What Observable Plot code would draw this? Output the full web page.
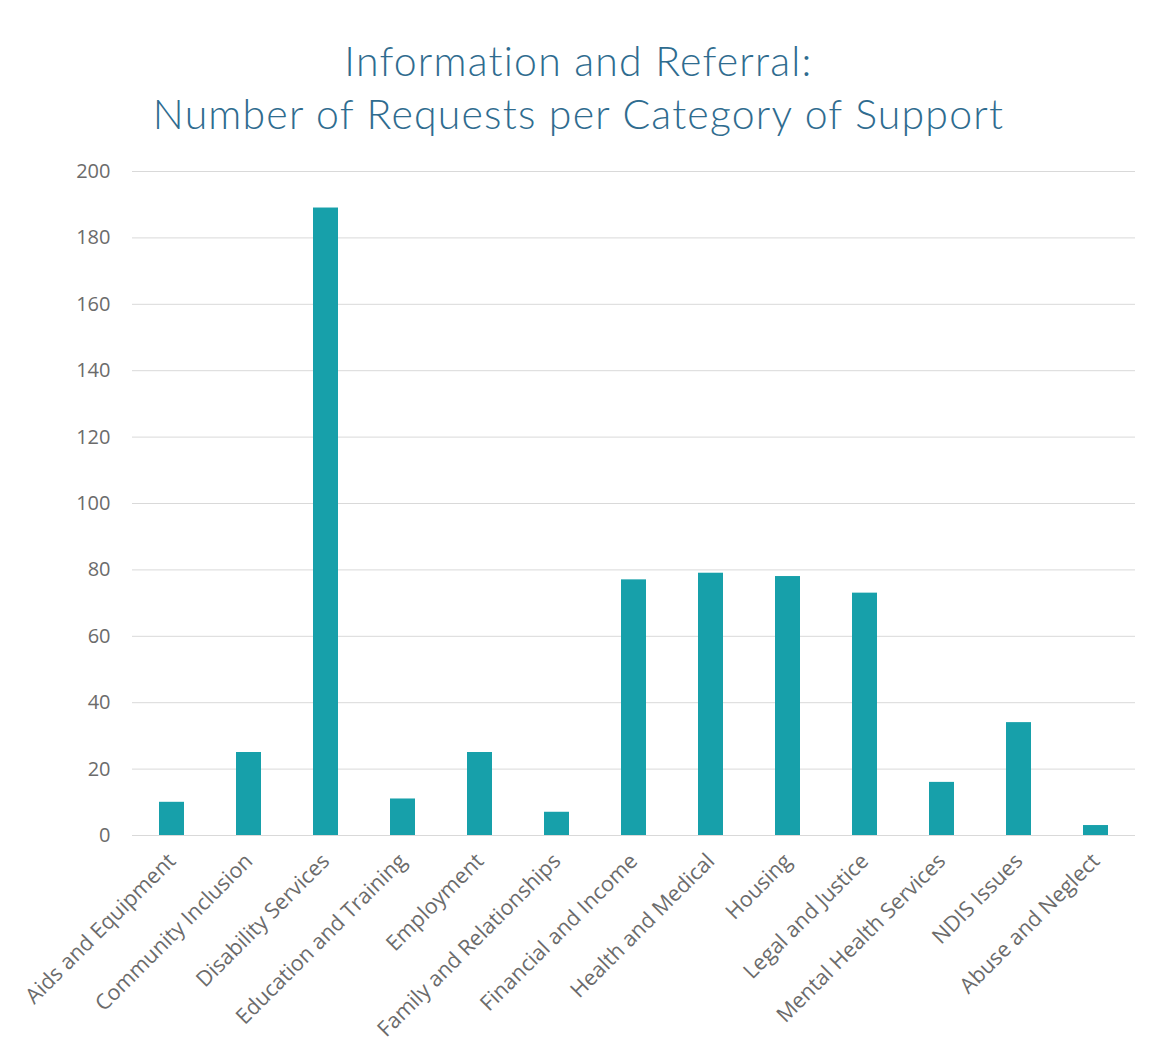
<!DOCTYPE html>
<html>
<head>
<meta charset="utf-8">
<script src="https://cdn.jsdelivr.net/npm/d3@7"></script>
<script src="https://cdn.jsdelivr.net/npm/@observablehq/plot@0.6"></script>
<style>
  html, body { margin: 0; padding: 0; background: #fff; }
  #title { height: 150px; box-sizing: border-box; padding-top: 34px; text-align: center;
    font-family: Lato, "Open Sans", sans-serif; font-weight: 300; color: #2f6c8f;
    font-size: 41px; line-height: 53px; letter-spacing: 1.2px; }
</style>
</head>
<body>
<div id="title"><div>Information and Referral:</div><div>Number of Requests per Category of Support</div></div>
<div id="chart"></div>
<script>
const categories = [
  "Aids and Equipment", "Community Inclusion", "Disability Services", "Education and Training",
  "Employment", "Family and Relationships", "Financial and Income", "Health and Medical",
  "Housing", "Legal and Justice", "Mental Health Services", "NDIS Issues", "Abuse and Neglect"
];
const requests = [10, 25, 189, 11, 25, 7, 77, 79, 78, 73, 16, 34, 3];
const yTicks = [0, 20, 40, 60, 80, 100, 120, 140, 160, 180, 200];

const data = categories.map((c, i) => ({category: c, value: requests[i]}));

const chart = Plot.plot({
  width: 1157,
  height: 900,
  marginTop: 21,
  marginBottom: 215,
  marginLeft: 132,
  marginRight: 22,
  style: {fontFamily: "'Open Sans', sans-serif", fontSize: "18px", color: "#6b6b6b", background: "#fff"},
  x: {domain: categories, paddingInner: 0.67, paddingOuter: 0.335, label: null},
  y: {domain: [0, 200], label: null},
  marks: [
    Plot.gridY(yTicks, {stroke: "#d9d9d9", strokeOpacity: 1, strokeWidth: 1}),
    Plot.barY(data, {x: "category", y: "value", fill: "#17a0aa"}),
    Plot.axisY(yTicks, {tickSize: 0, tickPadding: 22, label: null, fill: "#6b6b6b", fontSize: 20}),
    Plot.axisX({tickSize: 0, tickPadding: 22, dx: 0, tickRotate: -45, label: null, fill: "#6b6b6b", fontSize: 21.5})
  ]
});
document.getElementById("chart").appendChild(chart);
</script>
</body>
</html>
